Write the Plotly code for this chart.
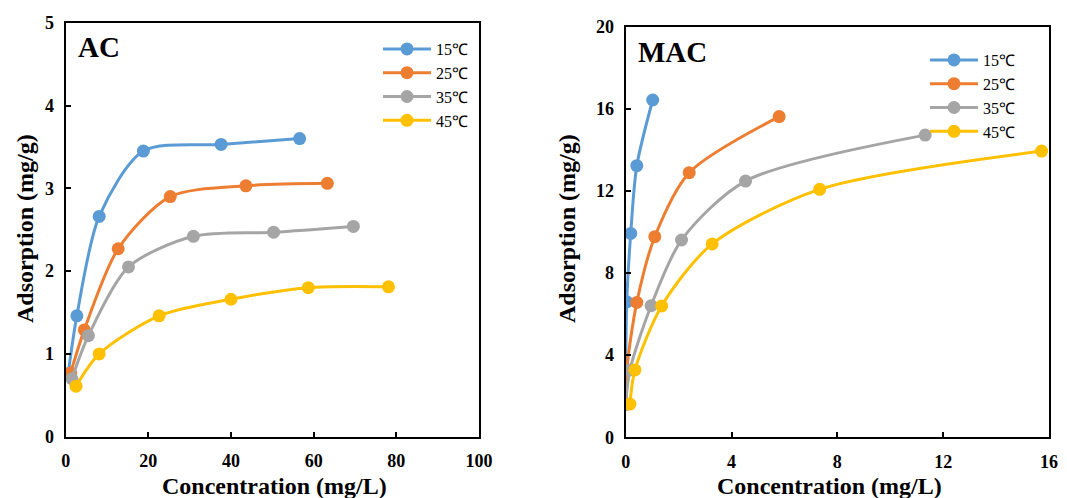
import plotly.graph_objects as go

series_names = ["15℃", "25℃", "35℃", "45℃"]
colors = ["#5B9BD5", "#ED7D31", "#A5A5A5", "#FFC000"]

# AC panel
ac_x = [
    [0.6, 2.7, 8.1, 18.8, 37.6, 56.6],
    [1.2, 4.5, 12.7, 25.3, 43.6, 63.3],
    [1.5, 5.5, 15.2, 30.9, 50.3, 69.6],
    [2.5, 8.1, 22.6, 40.0, 58.7, 78.1],
]
ac_y = [
    [0.76, 1.46, 2.66, 3.45, 3.53, 3.60],
    [0.77, 1.29, 2.27, 2.90, 3.03, 3.06],
    [0.70, 1.22, 2.05, 2.42, 2.47, 2.54],
    [0.61, 1.00, 1.46, 1.66, 1.80, 1.81],
]

# MAC panel
mac_x = [
    [0.0, 0.0, 0.04, 0.19, 0.42, 1.02],
    [0.02, 0.04, 0.42, 1.10, 2.40, 5.80],
    [0.0, 0.16, 0.96, 2.11, 4.53, 11.32],
    [0.16, 0.35, 1.36, 3.27, 7.33, 15.72],
]
mac_y = [
    [1.62, 3.31, 6.60, 9.93, 13.23, 16.43],
    [1.62, 3.28, 6.57, 9.77, 12.89, 15.62],
    [1.62, 3.28, 6.41, 9.61, 12.48, 14.72],
    [1.62, 3.28, 6.40, 9.42, 12.08, 13.94],
]

ac_xticks = [0, 20, 40, 60, 80, 100]
ac_yticks = [0, 1, 2, 3, 4, 5]
mac_xticks = [0, 4, 8, 12, 16]
mac_yticks = [0, 4, 8, 12, 16, 20]

FONT = "Times New Roman, Liberation Serif, serif"

fig = go.Figure()

for i in range(4):
    fig.add_trace(go.Scatter(
        x=ac_x[i], y=ac_y[i], name=series_names[i], mode="lines+markers",
        line=dict(color=colors[i], width=3, shape="spline", smoothing=0.8),
        marker=dict(color=colors[i], size=13),
        xaxis="x", yaxis="y", legend="legend",
    ))
for i in range(4):
    fig.add_trace(go.Scatter(
        x=mac_x[i], y=mac_y[i], name=series_names[i], mode="lines+markers",
        line=dict(color=colors[i], width=3, shape="spline", smoothing=0.8),
        marker=dict(color=colors[i], size=13),
        xaxis="x2", yaxis="y2", legend="legend2",
    ))

axis_common = dict(
    showline=True, linecolor="black", linewidth=2, mirror=True,
    ticks="inside", ticklen=5, tickwidth=1.5, tickcolor="black",
    showgrid=False, zeroline=False, automargin=False,
    tickfont=dict(family=FONT, size=18, color="black", weight="bold"),
)
x_common = dict(ticklabelstandoff=7, **axis_common)
y_common = dict(ticklabelstandoff=6, **axis_common)

legend_common = dict(
    xanchor="left", yanchor="top",
    font=dict(family=FONT, size=16, color="black"),
    itemwidth=48, tracegroupgap=0, bgcolor="rgba(0,0,0,0)",
)

fig.update_layout(
    width=1067, height=498,
    font=dict(family=FONT, color="black"),
    margin=dict(l=0, r=0, t=0, b=0, autoexpand=False),
    paper_bgcolor="white", plot_bgcolor="white",
    xaxis=dict(domain=[65.7 / 1067, 479 / 1067], range=[0, 100], tickvals=ac_xticks,
               anchor="y", **x_common),
    yaxis=dict(domain=[1 - 436.7 / 498, 1 - 22.7 / 498], range=[0, 5], tickvals=ac_yticks,
               anchor="x", **y_common),
    xaxis2=dict(domain=[625.7 / 1067, 1049 / 1067], range=[0, 16], tickvals=mac_xticks,
                anchor="y2", **x_common),
    yaxis2=dict(domain=[1 - 437.3 / 498, 1 - 26.7 / 498], range=[0, 20], tickvals=mac_yticks,
                anchor="x2", **y_common),
    legend=dict(x=378 / 1067, y=1 - 32 / 498, **legend_common),
    legend2=dict(x=925 / 1067, y=1 - 43 / 498, **legend_common),
    annotations=[
        dict(text="<b>AC</b>", x=76 / 1067, y=1 - 47 / 498, xref="paper", yref="paper",
             xanchor="left", yanchor="middle", showarrow=False,
             font=dict(family=FONT, size=29, color="black")),
        dict(text="<b>MAC</b>", x=636 / 1067, y=1 - 52 / 498, xref="paper", yref="paper",
             xanchor="left", yanchor="middle", showarrow=False,
             font=dict(family=FONT, size=29, color="black")),
        dict(text="<b>Adsorption (mg/g)</b>", x=25 / 1067, y=1 - 229 / 498, xref="paper", yref="paper",
             textangle=-90, xanchor="center", yanchor="middle", showarrow=False,
             font=dict(family=FONT, size=24, color="black")),
        dict(text="<b>Adsorption (mg/g)</b>", x=567 / 1067, y=1 - 229 / 498, xref="paper", yref="paper",
             textangle=-90, xanchor="center", yanchor="middle", showarrow=False,
             font=dict(family=FONT, size=24, color="black")),
        dict(text="<b>Concentration (mg/L)</b>", x=274 / 1067, y=1 - 486 / 498, xref="paper", yref="paper",
             xanchor="center", yanchor="middle", showarrow=False,
             font=dict(family=FONT, size=24, color="black")),
        dict(text="<b>Concentration (mg/L)</b>", x=829 / 1067, y=1 - 486 / 498, xref="paper", yref="paper",
             xanchor="center", yanchor="middle", showarrow=False,
             font=dict(family=FONT, size=24, color="black")),
    ],
)

fig.write_html(
    "out.html",
    config={"displayModeBar": False},
    post_script="document.body.style.margin='0';document.body.style.overflow='hidden';",
)
